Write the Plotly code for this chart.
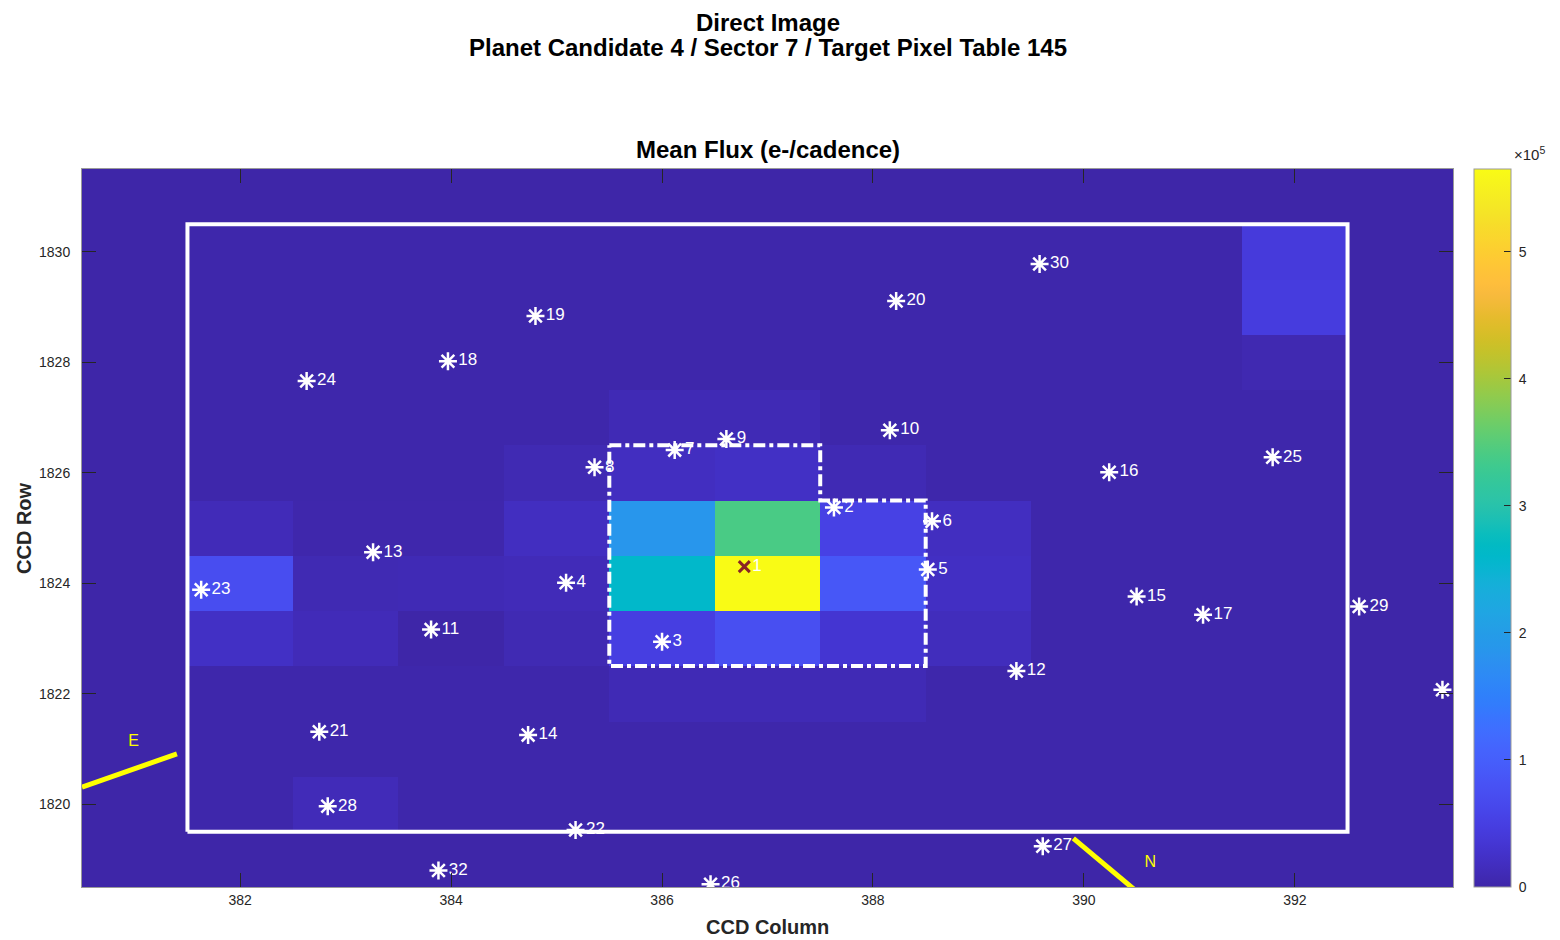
import plotly.graph_objects as go

# ---------------- data ----------------
columns = [382, 383, 384, 385, 386, 387, 388, 389, 390, 391, 392]
rows = [1820, 1821, 1822, 1823, 1824, 1825, 1826, 1827, 1828, 1829, 1830]

# mean flux (e-/cadence), one list per CCD row (bottom to top), columns 382..392
flux_1820 = [2000, 12000, 2000, 2000, 2000, 2000, 2000, 2000, 2000, 2000, 2000]
flux_1821 = [2000, 2000, 2000, 2000, 2000, 2000, 2000, 2000, 2000, 2000, 2000]
flux_1822 = [2000, 2000, 2000, 2000, 10000, 10000, 10000, 2000, 2000, 2000, 2000]
flux_1823 = [22000, 12000, 0, 8000, 49000, 75000, 33000, 15000, 2000, 2000, 2000]
flux_1824 = [72000, 8000, 10000, 12000, 260000, 565000, 88000, 20000, 2000, 2000, 2000]
flux_1825 = [12000, 3000, 3000, 18000, 187000, 340000, 53000, 18000, 2000, 2000, 2000]
flux_1826 = [2000, 2000, 2000, 8000, 18000, 22000, 9000, 2000, 2000, 2000, 2000]
flux_1827 = [2000, 2000, 2000, 2000, 10000, 10000, 2000, 2000, 2000, 2000, 2000]
flux_1828 = [2000, 2000, 2000, 2000, 2000, 2000, 2000, 2000, 2000, 2000, 7000]
flux_1829 = [2000, 2000, 2000, 2000, 2000, 2000, 2000, 2000, 2000, 2000, 45000]
flux_1830 = [2000, 2000, 2000, 2000, 2000, 2000, 2000, 2000, 2000, 2000, 42000]

# target (star 1)
target_id = ["1"]
target_col = [386.78]
target_row = [1824.30]

# neighbouring stars
star_ids = ["2", "3", "4", "5", "6", "7", "8", "9", "10", "11", "12", "13", "14", "15",
            "16", "17", "18", "19", "20", "21", "22", "23", "24", "25", "26", "27", "28",
            "29", "30", "31", "32"]
star_col = [387.63, 386.00, 385.09, 388.52, 388.56, 386.12, 385.36, 386.61, 388.16, 383.81,
            389.36, 383.26, 384.73, 390.50, 390.24, 391.13, 383.97, 384.80, 388.22, 382.75,
            385.18, 381.63, 382.63, 391.79, 386.46, 389.61, 382.83, 392.61, 389.58, 393.40,
            383.88]
star_row = [1825.37, 1822.94, 1824.01, 1824.25, 1825.12, 1826.41, 1826.10, 1826.61, 1826.77,
            1823.16, 1822.41, 1824.56, 1821.25, 1823.76, 1826.01, 1823.43, 1828.02, 1828.84,
            1829.11, 1821.31, 1819.53, 1823.88, 1827.66, 1826.28, 1818.55, 1819.24, 1819.96,
            1823.58, 1829.78, 1822.07, 1818.80]

# target pixel table boundary (mask)
mask_col = [381.5, 392.5, 392.5, 381.5, 381.5]
mask_row = [1819.5, 1819.5, 1830.5, 1830.5, 1819.5]

# optimal aperture outline
aper_col = [385.5, 387.5, 387.5, 388.5, 388.5, 385.5, 385.5]
aper_row = [1826.5, 1826.5, 1825.5, 1825.5, 1822.5, 1822.5, 1826.5]

# compass arrows
east_col = [380.50, 381.40]
east_row = [1820.31, 1820.91]
east_label = ["E"]
east_label_pos = [380.99, 1821.13]
north_col = [389.90, 390.50]
north_row = [1819.38, 1818.42]
north_label = ["N"]
north_label_pos = [390.63, 1818.93]

cbar_ticks = [0, 100000, 200000, 300000, 400000, 500000]
cbar_ticktext = [" 0", " 1", " 2", " 3", " 4", " 5"]

# parula colormap
parula = [
    (0.2422, 0.1504, 0.6603), (0.2504, 0.1650, 0.7076), (0.2578, 0.1818, 0.7511),
    (0.2647, 0.1978, 0.7952), (0.2706, 0.2147, 0.8364), (0.2751, 0.2342, 0.8710),
    (0.2783, 0.2559, 0.8991), (0.2803, 0.2782, 0.9221), (0.2813, 0.3006, 0.9414),
    (0.2810, 0.3228, 0.9579), (0.2795, 0.3447, 0.9717), (0.2760, 0.3667, 0.9829),
    (0.2699, 0.3892, 0.9906), (0.2602, 0.4123, 0.9952), (0.2440, 0.4358, 0.9988),
    (0.2206, 0.4603, 0.9973), (0.1963, 0.4847, 0.9892), (0.1834, 0.5074, 0.9798),
    (0.1786, 0.5289, 0.9682), (0.1764, 0.5499, 0.9520), (0.1687, 0.5703, 0.9359),
    (0.1540, 0.5902, 0.9218), (0.1460, 0.6091, 0.9079), (0.1380, 0.6276, 0.8973),
    (0.1248, 0.6459, 0.8883), (0.1113, 0.6635, 0.8763), (0.0952, 0.6798, 0.8598),
    (0.0689, 0.6948, 0.8394), (0.0297, 0.7082, 0.8163), (0.0036, 0.7203, 0.7917),
    (0.0067, 0.7312, 0.7660), (0.0433, 0.7411, 0.7394), (0.0964, 0.7500, 0.7120),
    (0.1408, 0.7584, 0.6842), (0.1717, 0.7670, 0.6554), (0.1938, 0.7758, 0.6251),
    (0.2161, 0.7843, 0.5923), (0.2470, 0.7918, 0.5567), (0.2906, 0.7973, 0.5188),
    (0.3406, 0.8008, 0.4789), (0.3909, 0.8029, 0.4354), (0.4456, 0.8024, 0.3909),
    (0.5044, 0.7993, 0.3480), (0.5616, 0.7942, 0.3045), (0.6174, 0.7876, 0.2612),
    (0.6720, 0.7793, 0.2227), (0.7242, 0.7698, 0.1910), (0.7738, 0.7598, 0.1646),
    (0.8203, 0.7498, 0.1535), (0.8634, 0.7406, 0.1596), (0.9035, 0.7330, 0.1774),
    (0.9393, 0.7288, 0.2100), (0.9728, 0.7298, 0.2394), (0.9956, 0.7434, 0.2371),
    (0.9970, 0.7659, 0.2199), (0.9952, 0.7893, 0.2028), (0.9892, 0.8136, 0.1885),
    (0.9786, 0.8386, 0.1766), (0.9676, 0.8639, 0.1643), (0.9610, 0.8890, 0.1537),
    (0.9597, 0.9135, 0.1423), (0.9628, 0.9373, 0.1265), (0.9691, 0.9606, 0.1064),
    (0.9769, 0.9839, 0.0805),
]

# ---------------- figure ----------------
def rgb(c):
    return "rgb(%d,%d,%d)" % tuple(round(v * 255) for v in c)

n = len(parula)
colorscale = [[i / (n - 1), rgb(c)] for i, c in enumerate(parula)]
bg = rgb(parula[0])

z = [flux_1820, flux_1821, flux_1822, flux_1823, flux_1824, flux_1825,
     flux_1826, flux_1827, flux_1828, flux_1829, flux_1830]
zmax = max(max(r) for r in z)

fig = go.Figure()

fig.add_trace(go.Heatmap(
    x=columns, y=rows, z=z, colorscale=colorscale, zmin=0, zmax=zmax,
    hoverinfo="skip",
    colorbar=dict(
        x=1.0153, xanchor="left", xpad=0, thickness=37, thicknessmode="pixels",
        y=0.5, yanchor="middle", len=1.0, lenmode="fraction", ypad=0,
        outlinewidth=1, outlinecolor="#9a9a9a",
        tickvals=cbar_ticks, ticktext=cbar_ticktext,
        ticks="inside", ticklen=7, tickcolor="#262626", tickwidth=1,
        tickfont=dict(family="Liberation Sans, Arial, sans-serif", size=14, color="#262626"),
    ),
))

star_font = dict(family="Liberation Sans Narrow, Liberation Sans, Arial, sans-serif",
                 size=17, color="white")

fig.add_trace(go.Scatter(
    x=star_col, y=star_row, text=star_ids, mode="markers+text",
    textposition="middle right", textfont=star_font,
    marker=dict(symbol="asterisk", size=15, color="white",
                line=dict(color="white", width=2.5)),
    hoverinfo="skip", showlegend=False,
))

fig.add_trace(go.Scatter(
    x=target_col, y=target_row, text=target_id, mode="markers+text",
    textposition="middle right", textfont=star_font,
    marker=dict(symbol="x-thin", size=11, color="#8a2525",
                line=dict(color="#8a2525", width=3)),
    hoverinfo="skip", showlegend=False,
))

fig.add_trace(go.Scatter(
    x=mask_col, y=mask_row, mode="lines",
    line=dict(color="white", width=4),
    hoverinfo="skip", showlegend=False,
))

fig.add_trace(go.Scatter(
    x=aper_col, y=aper_row, mode="lines",
    line=dict(color="white", width=4, dash="dashdot"),
    hoverinfo="skip", showlegend=False,
))

compass_font = dict(family="Liberation Sans Narrow, Liberation Sans, Arial, sans-serif",
                    size=16, color="#ffff00")

fig.add_trace(go.Scatter(
    x=east_col, y=east_row, mode="lines",
    line=dict(color="#ffff00", width=5), hoverinfo="skip", showlegend=False,
))
fig.add_trace(go.Scatter(
    x=north_col, y=north_row, mode="lines",
    line=dict(color="#ffff00", width=5), hoverinfo="skip", showlegend=False,
))
fig.add_trace(go.Scatter(
    x=[east_label_pos[0]], y=[east_label_pos[1]], text=east_label, mode="text",
    textfont=compass_font, hoverinfo="skip", showlegend=False,
))
fig.add_trace(go.Scatter(
    x=[north_label_pos[0]], y=[north_label_pos[1]], text=north_label, mode="text",
    textfont=compass_font, hoverinfo="skip", showlegend=False,
))

axis_common = dict(
    showgrid=False, zeroline=False, ticks="inside", ticklen=14, tickwidth=1,
    tickcolor="#262626", showline=True, linecolor="#9a9a9a", linewidth=1,
    mirror="ticks",
    tickfont=dict(family="Liberation Sans, Arial, sans-serif", size=14, color="#262626"),
)

fig.update_xaxes(range=[380.5, 393.5], tickvals=[382, 384, 386, 388, 390, 392],
                 ticklabelstandoff=0, **axis_common)
fig.update_yaxes(range=[1818.5, 1831.5], tickvals=[1820, 1822, 1824, 1826, 1828, 1830],
                 ticklabelstandoff=8, **axis_common)

title_font = dict(family="Liberation Sans, Arial, sans-serif", size=24, color="#000000")
label_font = dict(family="Liberation Sans, Arial, sans-serif", size=20, color="#262626")

annotations = [
    dict(text="<b>Direct Image</b>", x=0.5, y=1.0, yshift=161, yanchor="top",
         borderpad=0, font=title_font),
    dict(text="<b>Planet Candidate 4 / Sector 7 / Target Pixel Table 145</b>",
         x=0.5, y=1.1699, yanchor="middle", font=title_font),
    dict(text="<b>Mean Flux (e-/cadence)</b>", x=0.5, y=1.0265, yanchor="middle", font=title_font),
    dict(text="<b>CCD Column</b>", x=0.5, y=-0.0557, yanchor="middle", font=label_font),
    dict(text="<b>CCD Row</b>", x=-0.0423, y=0.5, yanchor="middle", textangle=-90, font=label_font),
    dict(text="\u00d710<sup>5</sup>", x=1.056, y=1.022, yanchor="middle",
         font=dict(family="Liberation Sans, Arial, sans-serif", size=15, color="#262626")),
]
for a in annotations:
    a.update(xref="paper", yref="paper", showarrow=False, xanchor="center")

# page body adds an 8 px offset; figure sized so the plot area lands where the reference has it
fig.update_layout(
    width=1552, height=932,
    margin=dict(l=74, r=107, t=161, b=53),
    paper_bgcolor="white", plot_bgcolor=bg,
    annotations=annotations, showlegend=False,
)

fig.write_html("out.html")
